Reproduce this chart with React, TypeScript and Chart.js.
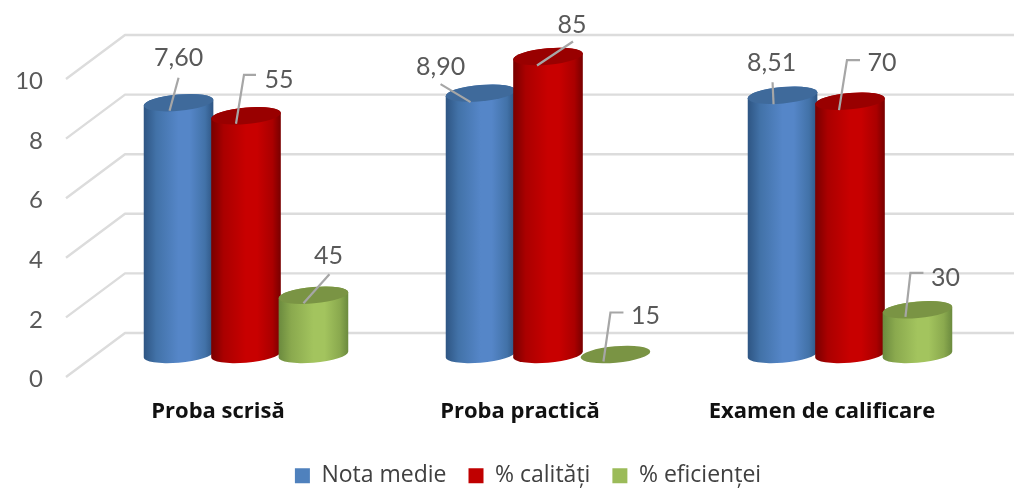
import React, { useEffect, useRef } from "react";
import { Chart, registerables } from "chart.js";

Chart.register(...registerables);

const categories = ["Proba scrisă", "Proba practică", "Examen de calificare"];
const seriesNames = ["Nota medie", "% calități", "% eficienței"];
const yTicks = [0, 2, 4, 6, 8, 10];

// Heights as drawn against the 0-10 axis
const notaMedie = [8.45, 8.77, 8.7];
const calitate = [8.01, 10, 8.5];
const eficienta = [1.99, 0, 1.5];

// Printed value labels
const notaMedieLabels = ["7,60", "8,90", "8,51"];
const calitateLabels = ["55", "85", "70"];
const eficientaLabels = ["45", "15", "30"];

const W = 1014;
const H = 488;
const LEGEND_FONT = 23;
const LEGEND_PAD = 22;
const PLOT_BOTTOM = 377;
const FONT = "Lato";
const TEXT_FONT = "'Open Sans'";

// Oblique depth of the 3D floor/walls
const DEPTH_X = 59;
const DEPTH_Y = 44;
const BAR_SHIFT_X = 28;
const BAR_SHIFT_Y = 22.5;

const RY = 8.2;
const TILT = (-5 * Math.PI) / 180;

const STYLES = [
  { dark: "#2e5583", near: "#4272a8", mid: "#5586c8", top: "#3f6a9b" },
  { dark: "#780000", near: "#aa0000", mid: "#c80000", top: "#990000" },
  { dark: "#6b8a3e", near: "#8aa94e", mid: "#a3c45e", top: "#7a9444" },
];

// Leader geometry relative to each cylinder's top centre: [line points..., label position]
const LEADERS: number[][][][] = [
  [
    [[-9, 8], [0, -25], [0, -47]],
    [[-10, 9], [-40, -9], [-40, -28]],
    [[-9, 9], [-10, -13], [-11, -34]],
  ],
  [
    [[-10, 8], [-2, -41], [10, -41], [33, -38]],
    [[-11, 9], [25, -15], [24, -34]],
    [[-11, 9], [-3, -41], [10, -41], [32, -40]],
  ],
  [
    [[-10, 8], [16, -21], [15, -41]],
    [[-12, 7], [-5, -42], [8, -42], [30, -41]],
    [[-12, 7], [-7, -37], [6, -37], [28, -34]],
  ],
];

const LABELS = [notaMedieLabels, calitateLabels, eficientaLabels];

const cylinderPlugin = {
  id: "cylinders",
  beforeDraw(chart: any) {
    const { ctx, chartArea, scales } = chart;
    // Lato's digits sit high on a middle baseline: nudge the axis labels down.
    for (const item of scales.y.getLabelItems(chartArea)) item.textOffset = 2.5;
    ctx.save();
    ctx.strokeStyle = "#dcdcdc";
    ctx.lineWidth = 2.4;
    ctx.lineJoin = "round";
    for (const t of scales.y.ticks) {
      const y = scales.y.getPixelForValue(t.value);
      ctx.beginPath();
      ctx.moveTo(chartArea.left - 1, y);
      ctx.lineTo(chartArea.left - 1 + DEPTH_X, y - DEPTH_Y);
      ctx.lineTo(chartArea.right + DEPTH_X, y - DEPTH_Y);
      ctx.stroke();
    }
    ctx.restore();
  },
  beforeDatasetsDraw(chart: any) {
    const { ctx } = chart;
    const tops: { x: number; y: number; s: number; i: number }[] = [];
    // Blue, red and green are painted in order so each overlaps its left neighbour.
    chart.data.datasets.forEach((_: any, s: number) => {
      const meta = chart.getDatasetMeta(s);
      meta.data.forEach((bar: any, i: number) => {
        const rx = (bar.width * 1.03) / 2 + 0.2;
        const cx = bar.x + BAR_SHIFT_X;
        const topY = bar.y - BAR_SHIFT_Y;
        const baseY = bar.base - BAR_SHIFT_Y;
        const st = STYLES[s];
        const t0 = Math.atan2(-RY * Math.sin(TILT), rx * Math.cos(TILT));
        const ex = rx * Math.cos(t0) * Math.cos(TILT) - RY * Math.sin(t0) * Math.sin(TILT);
        const ey = rx * Math.cos(t0) * Math.sin(TILT) + RY * Math.sin(t0) * Math.cos(TILT);
        ctx.save();
        if (baseY - topY > 0.5) {
          const g = ctx.createLinearGradient(cx - ex, 0, cx + ex, 0);
          g.addColorStop(0, st.dark);
          g.addColorStop(0.18, st.near);
          g.addColorStop(0.5, st.mid);
          g.addColorStop(0.66, st.mid);
          g.addColorStop(0.88, st.near);
          g.addColorStop(1, st.dark);
          ctx.beginPath();
          ctx.moveTo(cx + ex, topY + ey);
          ctx.lineTo(cx + ex, baseY + ey);
          ctx.ellipse(cx, baseY, rx, RY, TILT, t0, t0 + Math.PI);
          ctx.lineTo(cx - ex, topY - ey);
          ctx.ellipse(cx, topY, rx, RY, TILT, t0 + Math.PI, t0 + 2 * Math.PI);
          ctx.closePath();
          ctx.fillStyle = g;
          ctx.fill();
        }
        ctx.beginPath();
        ctx.ellipse(cx, topY, rx, RY, TILT, 0, Math.PI * 2);
        ctx.fillStyle = st.top;
        ctx.fill();
        ctx.restore();
        tops.push({ x: cx, y: topY, s, i });
      });
    });
    // Leader lines and printed value labels
    ctx.save();
    for (const p of tops) {
      const pts = LEADERS[p.s][p.i];
      ctx.strokeStyle = "#a6a6a6";
      ctx.lineWidth = 2.2;
      ctx.beginPath();
      pts.slice(0, -1).forEach(([dx, dy], k) => {
        if (k === 0) ctx.moveTo(p.x + dx, p.y + dy);
        else ctx.lineTo(p.x + dx, p.y + dy);
      });
      ctx.stroke();
      const [lx, ly] = pts[pts.length - 1];
      ctx.fillStyle = "#595959";
      ctx.font = `25px ${FONT}`;
      ctx.textAlign = "center";
      ctx.textBaseline = "middle";
      ctx.fillText(LABELS[p.s][p.i], p.x + lx, p.y + ly + 2);
    }
    ctx.restore();
    return false;
  },
  afterLayout(chart: any) {
    const l = chart.legend;
    if (!l) return;
    const dy = 475 - (l.top + LEGEND_PAD + (LEGEND_FONT * 1.2) / 2) + 3;
    const dx = 41.5;
    l.top += dy;
    l.bottom += dy;
    l.left += dx;
    l.right += dx;
  },
};

export default function App() {
  const ref = useRef<HTMLCanvasElement>(null);
  useEffect(() => {
    const series = [notaMedie, calitate, eficienta];
    const chart = new Chart(ref.current!, {
      type: "bar",
      data: {
        labels: categories,
        datasets: series.map((data, s) => ({
          label: seriesNames[s],
          data,
          backgroundColor: ["#4f81bd", "#c00000", "#9bbb59"][s],
          categoryPercentage: 0.67,
          barPercentage: 1,
        })),
      },
      options: {
        responsive: false,
        animation: false,
        layout: { padding: { left: 0, right: 41, top: 79, bottom: 0 } },
        scales: {
          x: {
            grid: { display: false },
            border: { display: false },
            ticks: {
              color: "#111111",
              padding: 14,
              maxRotation: 0,
              font: { family: TEXT_FONT, size: 22, weight: "bold" },
            },
            afterFit(s: any) {
              s.height = H - PLOT_BOTTOM - (s.chart.legend?.height ?? 56);
            },
          },
          y: {
            min: 0,
            max: 10,
            afterBuildTicks(s: any) {
              s.ticks = yTicks.map((value) => ({ value }));
            },
            grid: { display: false },
            border: { display: false },
            ticks: {
              color: "#595959",
              padding: 16,
              font: { family: FONT, size: 24 },
            },
            afterFit(s: any) {
              s.width = 67;
            },
          },
        },
        plugins: {
          tooltip: { enabled: false },
          legend: {
            position: "bottom",
            labels: {
              boxWidth: 15,
              boxHeight: 15,
              padding: LEGEND_PAD,
              color: "#404040",
              font: { family: TEXT_FONT, size: LEGEND_FONT },
            },
          },
        },
      },
      plugins: [cylinderPlugin],
    } as any);
    return () => chart.destroy();
  }, []);
  return (
    <div style={{ position: "fixed", left: 0, top: 0, width: W, height: H, background: "#fff" }}>
      <canvas ref={ref} width={W} height={H} style={{ display: "block" }} />
    </div>
  );
}
